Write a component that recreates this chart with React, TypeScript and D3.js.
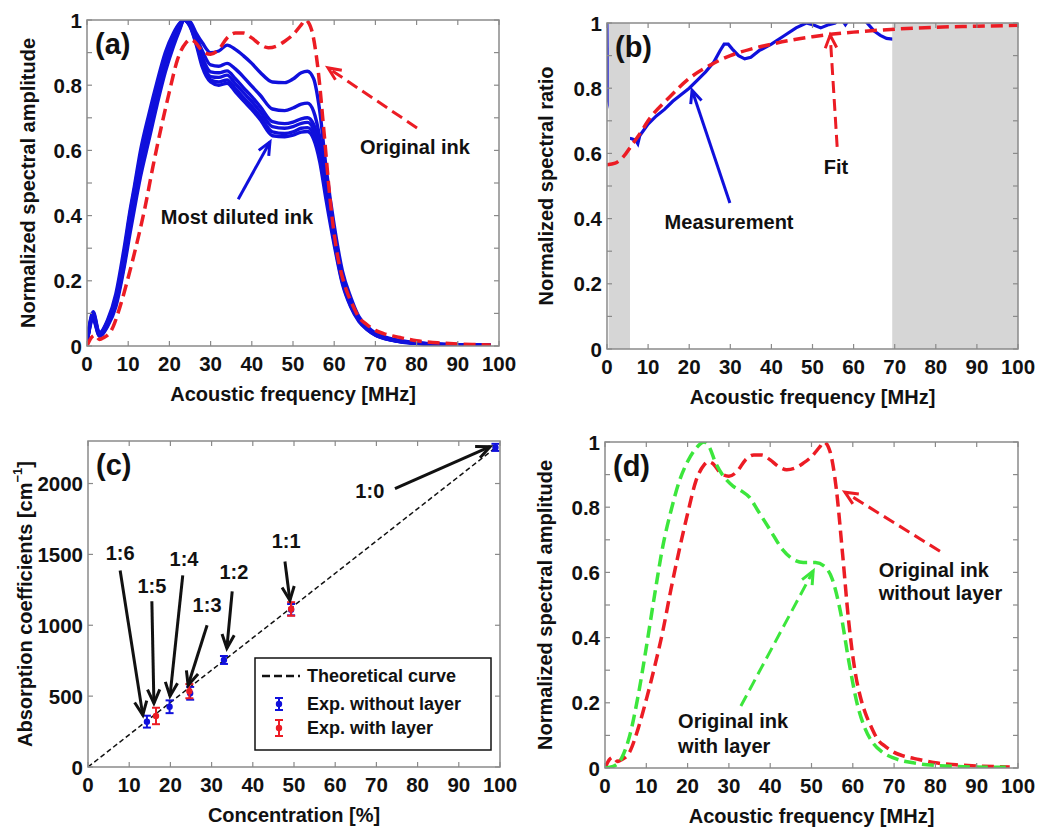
import React from 'react';
import * as d3 from 'd3';

const FONT = "'Liberation Sans', Arial, Helvetica, sans-serif";
const RED = '#ec1c24';
const BLUE = '#1010dc';
const GREEN = '#3ce63c';
const FRAME = '#8a8a8a';

// ---------- (a) & (d): original ink spectrum (red dashed)
const origFreq = [0, 1, 2, 3, 4, 6, 8, 10, 12, 14, 16, 18, 20, 22, 24, 25, 26, 28, 30, 32, 34, 36, 38, 40, 42, 44, 46, 48, 50, 52, 53, 54.5, 56, 57.5, 59, 60.5, 62, 63, 64.5, 66, 68, 70, 72, 76, 80, 85, 90, 95, 98];
const origAmp = [0, 0.025, 0.033, 0.02, 0.025, 0.05, 0.12, 0.21, 0.31, 0.42, 0.55, 0.67, 0.78, 0.88, 0.93, 0.94, 0.935, 0.905, 0.895, 0.91, 0.945, 0.96, 0.96, 0.945, 0.925, 0.915, 0.92, 0.935, 0.955, 0.985, 1.0, 0.97, 0.857, 0.66, 0.45, 0.3, 0.21, 0.17, 0.125, 0.088, 0.065, 0.048, 0.038, 0.026, 0.016, 0.01, 0.006, 0.004, 0.003];

// ---------- (a): diluted inks (blue), from least to most diluted
const dilFreq = [0, 1.5, 3, 5, 7, 9, 10.5, 11.5, 13, 15, 17, 19, 21, 22.5, 23.5, 25, 26.5, 28, 30, 32, 34, 36, 38, 40, 42, 45, 48, 50, 52, 53.5, 55, 56.5, 58, 60, 62, 64, 66, 68, 70, 73, 76, 80, 85, 90, 98];
const dil1 = [0.01, 0.08, 0.03, 0.06, 0.12, 0.24, 0.35, 0.42, 0.52, 0.63, 0.74, 0.84, 0.92, 0.97, 1.0, 0.995, 0.96, 0.93, 0.9, 0.905, 0.923, 0.91, 0.89, 0.867, 0.84, 0.81, 0.808, 0.819, 0.838, 0.843, 0.82, 0.72, 0.55, 0.37, 0.23, 0.15, 0.09, 0.06, 0.04, 0.025, 0.017, 0.01, 0.006, 0.004, 0.003];
const dil2 = [0.01, 0.085, 0.032, 0.065, 0.13, 0.25, 0.37, 0.44, 0.54, 0.65, 0.76, 0.855, 0.93, 0.975, 1.0, 0.99, 0.95, 0.905, 0.862, 0.858, 0.867, 0.85, 0.825, 0.797, 0.77, 0.727, 0.722, 0.73, 0.742, 0.745, 0.72, 0.64, 0.51, 0.35, 0.21, 0.135, 0.085, 0.056, 0.037, 0.023, 0.015, 0.009, 0.005, 0.003, 0.002];
const dil3 = [0.01, 0.09, 0.034, 0.07, 0.14, 0.265, 0.385, 0.455, 0.56, 0.67, 0.775, 0.87, 0.94, 0.98, 1.0, 0.987, 0.94, 0.885, 0.841, 0.838, 0.844, 0.82, 0.792, 0.765, 0.735, 0.688, 0.682, 0.687, 0.697, 0.7, 0.68, 0.61, 0.49, 0.34, 0.205, 0.13, 0.082, 0.054, 0.036, 0.022, 0.014, 0.009, 0.005, 0.003, 0.002];
const dil4 = [0.01, 0.095, 0.036, 0.072, 0.145, 0.275, 0.4, 0.47, 0.575, 0.685, 0.79, 0.88, 0.95, 0.985, 1.0, 0.985, 0.935, 0.875, 0.826, 0.824, 0.831, 0.805, 0.777, 0.75, 0.72, 0.673, 0.668, 0.673, 0.683, 0.686, 0.665, 0.595, 0.48, 0.33, 0.2, 0.127, 0.08, 0.052, 0.035, 0.021, 0.014, 0.008, 0.005, 0.003, 0.002];
const dil5 = [0.01, 0.1, 0.038, 0.076, 0.15, 0.285, 0.41, 0.48, 0.585, 0.695, 0.8, 0.89, 0.955, 0.988, 1.0, 0.982, 0.93, 0.865, 0.816, 0.81, 0.816, 0.79, 0.762, 0.735, 0.705, 0.657, 0.652, 0.657, 0.668, 0.67, 0.65, 0.58, 0.465, 0.32, 0.195, 0.123, 0.078, 0.051, 0.034, 0.02, 0.013, 0.008, 0.005, 0.003, 0.002];
const dil6 = [0.01, 0.105, 0.04, 0.08, 0.16, 0.3, 0.42, 0.49, 0.6, 0.71, 0.81, 0.9, 0.96, 0.99, 1.0, 0.98, 0.925, 0.855, 0.81, 0.8, 0.806, 0.78, 0.752, 0.725, 0.695, 0.645, 0.642, 0.647, 0.656, 0.658, 0.635, 0.565, 0.45, 0.31, 0.19, 0.12, 0.075, 0.05, 0.033, 0.02, 0.013, 0.008, 0.005, 0.003, 0.002];
const dilutions = [dil1, dil2, dil3, dil4, dil5, dil6];

// ---------- (b): spectral ratio
const measFreq = [0, 0.2, 2, 4, 6, 7, 7.5, 8, 10, 12, 14, 16, 18, 20, 22, 24, 26, 27.5, 28.5, 29.5, 30.5, 32, 33.5, 35, 37, 40, 43, 46, 48.5, 50, 52, 54, 55.5, 56.5, 57.5, 58, 58.5, 60, 62, 63.3, 65, 66.5, 68, 70, 72];
const measRatio = [1.05, 0.77, 0.68, 0.65, 0.645, 0.64, 0.63, 0.655, 0.69, 0.715, 0.735, 0.76, 0.78, 0.8, 0.825, 0.85, 0.88, 0.915, 0.935, 0.935, 0.92, 0.9, 0.89, 0.895, 0.915, 0.935, 0.96, 0.985, 1.0, 0.995, 0.985, 0.995, 1.0, 1.012, 1.004, 0.995, 1.004, 1.03, 1.02, 1.0, 0.975, 0.962, 0.953, 0.95, 0.96];
const fitFreq = [0, 2, 4, 6, 8, 10, 15, 20, 25, 30, 35, 40, 45, 50, 55, 60, 65, 70, 80, 90, 100];
const fitRatio = [0.565, 0.57, 0.59, 0.625, 0.66, 0.7, 0.77, 0.83, 0.87, 0.9, 0.92, 0.935, 0.948, 0.958, 0.966, 0.972, 0.977, 0.981, 0.987, 0.99, 0.993];
const excludedBands = [[0.4, 5.6], [69.4, 100]];

// ---------- (c): absorption coefficients
const theoryConc = [0, 99];
const theoryAbs = [0, 2255];
const noLayerConc = [14.3, 19.8, 24.8, 33, 49.3, 98.9];
const noLayerAbs = [320, 425, 520, 755, 1110, 2255];
const noLayerErr = [42, 45, 45, 28, 40, 25];
const layerConc = [16.5, 24.6, 49.3];
const layerAbs = [360, 535, 1115];
const layerErr = [58, 50, 48];
const ratioLabels = ['1:6', '1:5', '1:4', '1:3', '1:2', '1:1', '1:0'];
const ratioTextPos = [[7.8, 1507], [15.5, 1274], [23.3, 1471], [28.9, 1140], [35.4, 1373], [48.1, 1598], [68.4, 1950]];
const ratioArrowTail = [[7.8, 1387], [15.5, 1169], [23, 1352], [28.9, 1000], [35, 1239], [47.8, 1450], [74.5, 1964]];
const ratioArrowTip = [[13.3, 366], [16, 450], [19.9, 500], [24.3, 577], [33.7, 838], [49, 1176], [97.6, 2260]];

// ---------- (d): original ink with layer (green dashed)
const layerFreq = [0, 2, 4, 6, 8, 10, 12, 14, 16, 18, 20, 22, 24, 25, 27, 29, 31, 33, 35, 37, 40, 43, 45, 48, 51, 53, 55, 57, 59, 61, 63, 65, 67, 70, 75, 80, 90, 98];
const layerAmp = [0, 0.005, 0.03, 0.1, 0.22, 0.37, 0.53, 0.68, 0.79, 0.88, 0.94, 0.98, 1.0, 0.99, 0.93, 0.89, 0.865, 0.85, 0.83, 0.79, 0.73, 0.67, 0.645, 0.63, 0.63, 0.62, 0.58, 0.48, 0.33, 0.2, 0.12, 0.075, 0.05, 0.03, 0.015, 0.008, 0.003, 0.002];

const freqTicks = d3.range(0, 101, 10);
const ampTicks = [0, 0.2, 0.4, 0.6, 0.8, 1];
const ampMinor = [0.1, 0.3, 0.5, 0.7, 0.9];
const absTicks = [0, 500, 1000, 1500, 2000];

type Scale = d3.ScaleLinear<number, number>;

function path(xs: number[], ys: number[], x: Scale, y: Scale, curve: d3.CurveFactory = d3.curveMonotoneX) {
  return d3.line<number>().x((_, i) => x(xs[i])).y(d => y(d)).curve(curve)(ys) || '';
}

function Arrow({ x1, y1, x2, y2, color, dash, width = 3, head = 14 }: any) {
  const ang = Math.atan2(y2 - y1, x2 - x1);
  const a1 = ang + Math.PI - 0.42;
  const a2 = ang + Math.PI + 0.42;
  const pts = [
    [x2 + head * Math.cos(a1), y2 + head * Math.sin(a1)],
    [x2, y2],
    [x2 + head * Math.cos(a2), y2 + head * Math.sin(a2)],
  ].map(p => p.join(',')).join(' ');
  return (
    <g stroke={color} strokeWidth={width} fill="none">
      <line x1={x1} y1={y1} x2={x2} y2={y2} strokeDasharray={dash} />
      <polyline points={pts} strokeLinejoin="miter" />
    </g>
  );
}

function Frame({ x, y, xTicks, yTicks, yMinor = [], yFmt, xTitle, yTitle, yTitleX, letter }: any) {
  const [x0, x1] = x.range();
  const [y0, y1] = y.range();
  const t = 5;
  const allY = [...yTicks, ...yMinor];
  return (
    <g>
      <rect x={x0} y={y1} width={x1 - x0} height={y0 - y1} fill="none" stroke={FRAME} strokeWidth={1.5} />
      <g stroke={FRAME} strokeWidth={1.2}>
        {xTicks.map((v: number) => (
          <g key={'x' + v}>
            <line x1={x(v)} x2={x(v)} y1={y0} y2={y0 - t} />
            <line x1={x(v)} x2={x(v)} y1={y1} y2={y1 + t} />
          </g>
        ))}
        {allY.map((v: number) => (
          <g key={'y' + v}>
            <line x1={x0} x2={x0 + t} y1={y(v)} y2={y(v)} />
            <line x1={x1} x2={x1 - t} y1={y(v)} y2={y(v)} />
          </g>
        ))}
      </g>
      <g fontFamily={FONT} fontWeight="bold" fontSize={20.5} fill="#111">
        {xTicks.map((v: number) => (
          <text key={'xl' + v} x={x(v)} y={y0 + 17} textAnchor="middle" dominantBaseline="central">{v}</text>
        ))}
        {yTicks.map((v: number) => (
          <text key={'yl' + v} x={x0 - 5} y={y(v)} textAnchor="end" dominantBaseline="central">{yFmt(v)}</text>
        ))}
      </g>
      <text x={(x0 + x1) / 2} y={y0 + 48} textAnchor="middle" dominantBaseline="central"
        fontFamily={FONT} fontWeight="bold" fontSize={20} fill="#111">{xTitle}</text>
      <text transform={`translate(${yTitleX},${(y0 + y1) / 2}) rotate(-90)`} textAnchor="middle" dominantBaseline="central"
        fontFamily={FONT} fontWeight="bold" fontSize={20} fill="#111">{yTitle}</text>
      <text x={x0 + 8} y={y1 + 24} dominantBaseline="central"
        fontFamily={FONT} fontWeight="bold" fontSize={29} fill="#111">{letter}</text>
    </g>
  );
}

function Label({ x, y, children, anchor = 'middle', size = 20 }: any) {
  return (
    <text x={x} y={y} textAnchor={anchor} dominantBaseline="central"
      fontFamily={FONT} fontWeight="bold" fontSize={size} fill="#111">{children}</text>
  );
}

function ErrorBar({ cx, cy, top, bottom, color }: any) {
  return (
    <g stroke={color} strokeWidth={2}>
      <line x1={cx} x2={cx} y1={top} y2={bottom} />
      <line x1={cx - 4} x2={cx + 4} y1={top} y2={top} />
      <line x1={cx - 4} x2={cx + 4} y1={bottom} y2={bottom} />
      <circle cx={cx} cy={cy} r={2.2} fill={color} />
    </g>
  );
}

const fmtAmp = (v: number) => String(v);

export default function App() {
  // panel (a)
  const xa = d3.scaleLinear().domain([0, 100]).range([87, 499]);
  const ya = d3.scaleLinear().domain([0, 1]).range([346, 20]);
  // panel (b)
  const xb = d3.scaleLinear().domain([0, 100]).range([607, 1018]);
  const yb = d3.scaleLinear().domain([0, 1]).range([349, 23]);
  // panel (c)
  const xc = d3.scaleLinear().domain([0, 100]).range([88, 500]);
  const yc = d3.scaleLinear().domain([0, 2300]).range([767, 441]);
  // panel (d)
  const xd = d3.scaleLinear().domain([0, 100]).range([605, 1018]);
  const yd = d3.scaleLinear().domain([0, 1]).range([768, 442]);

  const clipRect = (id: string, x: Scale, y: Scale) => (
    <clipPath id={id}>
      <rect x={x.range()[0]} y={y.range()[1]} width={x.range()[1] - x.range()[0]} height={y.range()[0] - y.range()[1]} />
    </clipPath>
  );

  return (
    <svg width={1050} height={836} style={{ position: 'absolute', left: 0, top: 0, background: '#fff' }}>
      <defs>
        {clipRect('clipA', xa, ya)}
        {clipRect('clipB', xb, yb)}
        {clipRect('clipC', xc, yc)}
        {clipRect('clipD', xd, yd)}
      </defs>
      <rect width={1050} height={836} fill="#fff" />

      {/* ---------- (a) ---------- */}
      <g clipPath="url(#clipA)">
        {dilutions.map((vals, i) => (
          <path key={i} d={path(dilFreq, vals, xa, ya)} fill="none" stroke={BLUE} strokeWidth={3.4} />
        ))}
        <path d={path(origFreq, origAmp, xa, ya)} fill="none" stroke={RED} strokeWidth={3.5} strokeDasharray="12 6" />
      </g>
      <Frame x={xa} y={ya} xTicks={freqTicks} yTicks={ampTicks} yMinor={ampMinor} yFmt={fmtAmp}
        xTitle="Acoustic frequency [MHz]" yTitle="Normalized spectral amplitude" yTitleX={28} letter="(a)" />
      <Arrow x1={xa(80.1)} y1={ya(0.669)} x2={xa(58.5)} y2={ya(0.853)} color={RED} dash="12 6" />
      <Label x={xa(79.6)} y={ya(0.61)}>Original ink</Label>
      <Arrow x1={xa(36.7)} y1={ya(0.45)} x2={xa(44.4)} y2={ya(0.626)} color={BLUE} />
      <Label x={xa(36.4)} y={ya(0.396)}>Most diluted ink</Label>

      {/* ---------- (b) ---------- */}
      <g clipPath="url(#clipB)">
        <path d={path(measFreq, measRatio, xb, yb, d3.curveLinear)} fill="none" stroke={BLUE} strokeWidth={3.2} />
        {excludedBands.map(([a, b], i) => (
          <rect key={i} x={xb(a)} y={yb(1)} width={xb(b) - xb(a)} height={yb(0) - yb(1)} fill="#d6d6d6" />
        ))}
        <path d={path(fitFreq, fitRatio, xb, yb)} fill="none" stroke={RED} strokeWidth={3.5} strokeDasharray="12 6" />
      </g>
      <Frame x={xb} y={yb} xTicks={freqTicks} yTicks={ampTicks} yMinor={ampMinor} yFmt={fmtAmp}
        xTitle="Acoustic frequency [MHz]" yTitle="Normalized spectral ratio" yTitleX={546} letter="(b)" />
      <Arrow x1={xb(29.9)} y1={yb(0.448)} x2={xb(20.7)} y2={yb(0.794)} color={BLUE} />
      <Label x={xb(29.7)} y={yb(0.39)}>Measurement</Label>
      <Arrow x1={xb(56)} y1={yb(0.62)} x2={xb(54.3)} y2={yb(0.963)} color={RED} dash="12 6" />
      <Label x={xb(55.7)} y={yb(0.558)}>Fit</Label>

      {/* ---------- (c) ---------- */}
      <g clipPath="url(#clipC)">
        <path d={path(theoryConc, theoryAbs, xc, yc, d3.curveLinear)} fill="none" stroke="#111" strokeWidth={1.5} strokeDasharray="5 3" />
        {noLayerConc.map((c, i) => (
          <ErrorBar key={'n' + i} cx={xc(c)} cy={yc(noLayerAbs[i])} top={yc(noLayerAbs[i] + noLayerErr[i])}
            bottom={yc(noLayerAbs[i] - noLayerErr[i])} color={BLUE} />
        ))}
        {layerConc.map((c, i) => (
          <ErrorBar key={'l' + i} cx={xc(c)} cy={yc(layerAbs[i])} top={yc(layerAbs[i] + layerErr[i])}
            bottom={yc(layerAbs[i] - layerErr[i])} color={RED} />
        ))}
      </g>
      <Frame x={xc} y={yc} xTicks={freqTicks} yTicks={absTicks} yFmt={(v: number) => String(v)}
        xTitle="Concentration [%]" yTitle={<>Absorption coefficients [cm<tspan dy={-8} fontSize={13}>−1</tspan><tspan dy={8}>]</tspan></>}
        yTitleX={25} letter="(c)" />
      {ratioLabels.map((lab, i) => (
        <g key={lab}>
          <Arrow x1={xc(ratioArrowTail[i][0])} y1={yc(ratioArrowTail[i][1])} x2={xc(ratioArrowTip[i][0])} y2={yc(ratioArrowTip[i][1])}
            color="#111" width={3} head={15} />
          <Label x={xc(ratioTextPos[i][0])} y={yc(ratioTextPos[i][1])} size={20}>{lab}</Label>
        </g>
      ))}
      {/* legend */}
      <g>
        <rect x={255} y={658} width={236} height={92} fill="#fff" stroke="#111" strokeWidth={1.5} />
        <line x1={262} x2={300} y1={676} y2={676} stroke="#111" strokeWidth={2.5} strokeDasharray="8 4" />
        <ErrorBar cx={279} cy={704} top={698} bottom={710} color={BLUE} />
        <ErrorBar cx={279} cy={728} top={720} bottom={736} color={RED} />
        <Label x={307} y={676} anchor="start" size={18}>Theoretical curve</Label>
        <Label x={307} y={704} anchor="start" size={18}>Exp. without layer</Label>
        <Label x={307} y={728} anchor="start" size={18}>Exp. with layer</Label>
      </g>

      {/* ---------- (d) ---------- */}
      <g clipPath="url(#clipD)">
        <path d={path(origFreq, origAmp, xd, yd)} fill="none" stroke={RED} strokeWidth={3.5} strokeDasharray="12 6" />
        <path d={path(layerFreq, layerAmp, xd, yd)} fill="none" stroke={GREEN} strokeWidth={3.5} strokeDasharray="12 6" />
      </g>
      <Frame x={xd} y={yd} xTicks={freqTicks} yTicks={ampTicks} yMinor={ampMinor} yFmt={fmtAmp}
        xTitle="Acoustic frequency [MHz]" yTitle="Normalized spectral amplitude" yTitleX={545} letter="(d)" />
      <Arrow x1={xd(81.1)} y1={yd(0.665)} x2={xd(58.1)} y2={yd(0.846)} color={RED} dash="12 6" />
      <Label x={xd(66.3)} y={yd(0.607)} anchor="start">Original ink</Label>
      <Label x={xd(66.3)} y={yd(0.537)} anchor="start">without layer</Label>
      <Arrow x1={xd(32.9)} y1={yd(0.19)} x2={xd(50.4)} y2={yd(0.604)} color={GREEN} dash="12 6" />
      <Label x={xd(17.7)} y={yd(0.144)} anchor="start">Original ink</Label>
      <Label x={xd(17.7)} y={yd(0.067)} anchor="start">with layer</Label>
    </svg>
  );
}
